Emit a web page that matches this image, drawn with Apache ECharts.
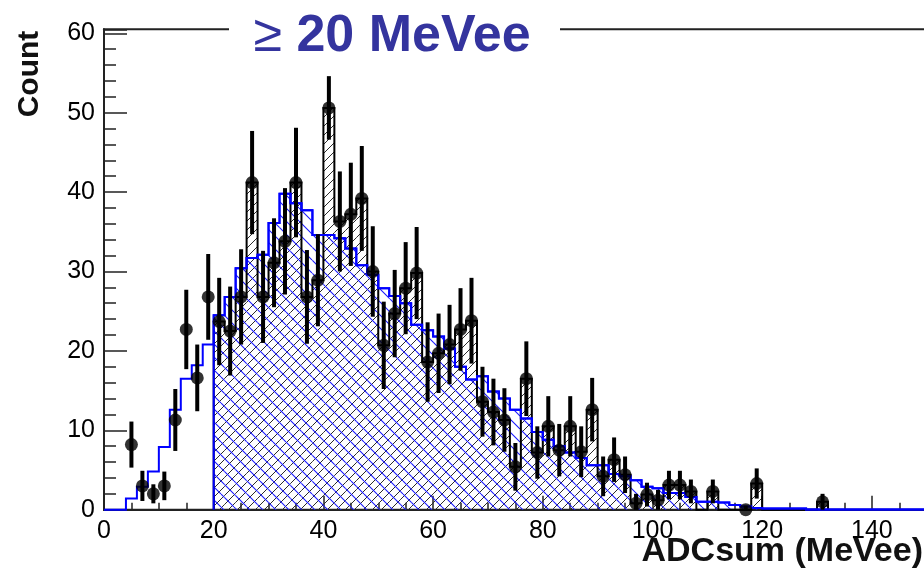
<!DOCTYPE html>
<html>
<head>
<meta charset="utf-8">
<script src="https://cdn.jsdelivr.net/npm/echarts@6/dist/echarts.min.js"></script>
<style>
  html, body { margin: 0; padding: 0; background: #fff; }
  #chart { width: 924px; height: 568px; }
</style>
</head>
<body>
<div id="chart"></div>
<script>
// Histogram binning: bin i covers [i*BIN_WIDTH, (i+1)*BIN_WIDTH) in MeVee
const BIN_WIDTH = 2;
const HATCH_START = 20;   // energy threshold for the hatched selection

// Simulated spectrum (blue), one entry per bin starting at 0 MeVee
const mcValues = [
  0, 0, 1.4, 2.9, 4.8, 7.9, 12.6, 16.5, 18.2, 20.8,
  24.5, 26.8, 30.4, 31.7, 32.1, 36.1, 39.8, 38.6, 37.7, 34.6,
  34.6, 34.2, 32.9, 30.8, 29.6, 27.9, 26.9, 26.0, 23.3, 22.6,
  21.8, 20.3, 18.0, 16.4, 16.8, 14.9, 14.0, 12.6, 11.5, 9.8,
  8.8, 8.0, 7.2, 6.5, 5.6, 5.6, 4.5, 4.2, 3.7, 2.9,
  2.7, 2.1, 2.1, 1.6, 1.0, 1.0, 0.9, 0.6, 0.4, 0.2,
  0.15, 0.15, 0.15, 0.15, 0.03, 0.03, 0.03, 0.03, 0.03, 0.03,
  0.03, 0.03, 0.03, 0.03, 0.03, 0.03, 0.03, 0.03, 0.03, 0.03
];

// Measured counts per bin (null = empty bin, no marker)
const dataValues = [
  null, null, 8.2, 3.0, 2.0, 3.0, 11.3, 22.7, 16.6, 26.8,
  23.7, 22.5, 26.8, 41.2, 26.8, 31.1, 33.8, 41.2, 26.8, 28.9,
  50.6, 36.3, 37.2, 39.2, 30.0, 20.7, 24.7, 27.9, 29.8, 18.6,
  19.7, 20.8, 22.7, 23.8, 13.6, 12.3, 11.3, 5.4, 16.5, 7.2,
  10.5, 7.5, 10.5, 7.3, 12.6, 4.2, 6.3, 4.4, 0.8, 1.9,
  1.2, 3.1, 3.1, 2.3, null, 2.3, null, null, 0.0, 3.3,
  null, null, null, null, null, 1.0, null, null, null, null,
  null, null, null, null, null, null, null, null, null, null
];

// Statistical uncertainty on each measured bin
const dataErrors = [
  null, null, 2.9, 1.9, 1.2, 1.8, 3.9, 5.0, 4.2, 5.4,
  5.5, 5.6, 6.0, 6.5, 5.8, 5.6, 6.7, 6.9, 5.9, 5.8,
  4.0, 6.3, 6.5, 6.6, 5.7, 5.5, 5.5, 5.8, 5.8, 5.0,
  5.0, 5.0, 5.2, 5.4, 4.4, 4.2, 4.0, 3.0, 4.7, 3.3,
  3.8, 3.3, 3.8, 3.2, 4.0, 2.5, 2.8, 2.3, 1.2, 1.5,
  1.3, 1.8, 1.8, 1.5, null, 1.5, null, null, 0.5, 1.9,
  null, null, null, null, null, 1.0, null, null, null, null,
  null, null, null, null, null, null, null, null, null, null
];

// Axis ticks and labels
const xTickLabels = [0, 20, 40, 60, 80, 100, 120, 140, 160];
const yTickLabels = [0, 10, 20, 30, 40, 50, 60];

const BLUE = '#0000ff';
const TITLE_BLUE = '#34349e';
const FONT = '"Liberation Sans", Arial, Helvetica, sans-serif';

// ---- derived bin lists ----
const mcBins = mcValues.map((v, i) => [i * BIN_WIDTH, (i + 1) * BIN_WIDTH, v]);
const mcSelBins = mcBins.filter(b => b[0] >= HATCH_START);

let lastData = 0;
dataValues.forEach((v, i) => { if (v !== null) lastData = i; });
const dataBinsAll = dataValues.map((v, i) => [i * BIN_WIDTH, (i + 1) * BIN_WIDTH, v === null ? 0 : v]);
const dataSelBins = dataBinsAll.filter((b, i) => b[0] >= HATCH_START && i <= lastData);

const points = [];
const errBars = [];
dataValues.forEach((v, i) => {
  if (v === null) return;
  const xc = i * BIN_WIDTH + BIN_WIDTH / 2;
  points.push([xc, v]);
  errBars.push([xc, v, dataErrors[i]]);
});

// ---- hatch patterns ----
function makeHatch(color, spacing, lineWidth, dir) {
  const c = document.createElement('canvas');
  c.width = spacing; c.height = spacing;
  const ctx = c.getContext('2d');
  ctx.strokeStyle = color;
  ctx.lineWidth = lineWidth;
  ctx.beginPath();
  for (let k = -spacing; k <= spacing; k += spacing) {
    if (dir === '/') { ctx.moveTo(k, spacing); ctx.lineTo(k + spacing, 0); }
    else { ctx.moveTo(k, 0); ctx.lineTo(k + spacing, spacing); }
  }
  ctx.stroke();
  return { image: c, repeat: 'repeat' };
}
const blackHatch = makeHatch('#2a2a2a', 9, 1, '/');
const blueHatch = makeHatch('#1a1aff', 13, 1.1, '\\');

// ---- render helpers ----
function hatchRender(pattern) {
  return function (params, api) {
    const x0 = api.value(0), x1 = api.value(1), v = api.value(2);
    if (!(v > 0)) return null;
    const p0 = api.coord([x0, 0]);
    const p1 = api.coord([x1, v]);
    return {
      type: 'rect',
      shape: { x: p0[0], y: p1[1], width: p1[0] - p0[0], height: p0[1] - p1[1] },
      style: { fill: pattern },
      silent: true
    };
  };
}

function contourRender(bins, color, width) {
  return function (params, api) {
    const pts = [api.coord([bins[0][0], 0])];
    bins.forEach(b => {
      pts.push(api.coord([b[0], b[2]]));
      pts.push(api.coord([b[1], b[2]]));
    });
    pts.push(api.coord([bins[bins.length - 1][1], 0]));
    return {
      type: 'polyline',
      shape: { points: pts },
      style: { stroke: color, lineWidth: width, fill: null, lineJoin: 'miter' },
      silent: true
    };
  };
}

function errorRender(params, api) {
  const x = api.value(0), v = api.value(1), e = api.value(2);
  const top = api.coord([x, v + e]);
  const bot = api.coord([x, Math.max(0, v - e)]);
  return {
    type: 'line',
    shape: { x1: top[0], y1: top[1], x2: bot[0], y2: bot[1] },
    style: { stroke: '#000', lineWidth: 4 },
    silent: true
  };
}

const chart = echarts.init(document.getElementById('chart'));

chart.setOption({
  animation: false,
  backgroundColor: '#fff',
  grid: {
    left: 104, top: 29.3, width: 877.6, height: 480.4,
    containLabel: false, outerBoundsMode: 'none',
    show: true, borderColor: '#222', borderWidth: 2, backgroundColor: 'transparent'
  },
  xAxis: {
    type: 'value', min: 0, max: 160, interval: 20,
    axisLine: { lineStyle: { color: '#222', width: 2 } },
    axisTick: { inside: true, length: 14, lineStyle: { color: '#222', width: 1.5 } },
    minorTick: { show: true, splitNumber: 4, length: 7, lineStyle: { color: '#222', width: 1.5 } },
    splitLine: { show: false },
    axisLabel: {
      margin: 9, fontSize: 25, color: '#000', fontFamily: FONT,
      formatter: v => (xTickLabels.indexOf(v) >= 0 ? String(v) : '')
    }
  },
  yAxis: [
    {
      type: 'value', min: 0, max: 60.5, interval: 10,
      axisLine: { lineStyle: { color: '#222', width: 2 } },
      axisTick: { inside: true, length: 23, lineStyle: { color: '#222', width: 1.5 } },
      splitLine: { show: false },
      axisLabel: {
        margin: 9, fontSize: 25, color: '#000', fontFamily: FONT,
        formatter: v => (yTickLabels.indexOf(v) >= 0 ? String(v) : '')
      }
    },
    {
      type: 'value', min: 0, max: 60.5, interval: 2, position: 'left',
      axisLine: { show: false },
      axisTick: { inside: true, length: 12, lineStyle: { color: '#222', width: 1.5 } },
      splitLine: { show: false },
      axisLabel: { show: false }
    }
  ],
  graphic: [
    {
      type: 'rect', z: 100,
      shape: { x: 229, y: 12, width: 331, height: 44 },
      style: { fill: '#fff' }
    },
    {
      type: 'text', z: 101, x: 392, y: 37,
      style: {
        text: '{s|≥ }{b|20 MeVee}',
        align: 'center', verticalAlign: 'middle',
        rich: {
          s: { fontSize: 52, fontFamily: FONT, fill: TITLE_BLUE },
          b: { fontSize: 52, fontWeight: 'bold', fontFamily: FONT, fill: TITLE_BLUE }
        }
      }
    },
    {
      type: 'text', z: 101, x: 30, y: 74, rotation: Math.PI / 2,
      style: {
        text: 'Count', align: 'center', verticalAlign: 'middle',
        font: 'bold 30px ' + FONT, fill: '#111'
      }
    },
    {
      type: 'text', z: 101, x: 923, y: 552,
      style: {
        text: 'ADCsum (MeVee)', align: 'right', verticalAlign: 'middle',
        font: 'bold 34px ' + FONT, fill: '#111'
      }
    }
  ],
  series: [
    {
      type: 'custom', name: 'data-hatch', z: 1,
      renderItem: hatchRender(blackHatch), data: dataSelBins
    },
    {
      type: 'custom', name: 'mc-hatch', z: 2,
      renderItem: hatchRender(blueHatch), data: mcSelBins
    },
    {
      type: 'custom', name: 'data-outline', z: 3,
      renderItem: contourRender(dataSelBins, '#000', 2), data: [0]
    },
    {
      type: 'custom', name: 'mc-outline', z: 4,
      renderItem: contourRender(mcBins, BLUE, 2), data: [0]
    },
    {
      type: 'custom', name: 'mc-sel-outline', z: 4,
      renderItem: contourRender(mcSelBins, BLUE, 2), data: [0]
    },
    {
      type: 'custom', name: 'errors', z: 5,
      renderItem: errorRender, data: errBars
    },
    {
      type: 'scatter', name: 'data', z: 6,
      symbol: 'circle', symbolSize: 13,
      itemStyle: { color: '#000' },
      data: points
    }
  ]
});
</script>
</body>
</html>
